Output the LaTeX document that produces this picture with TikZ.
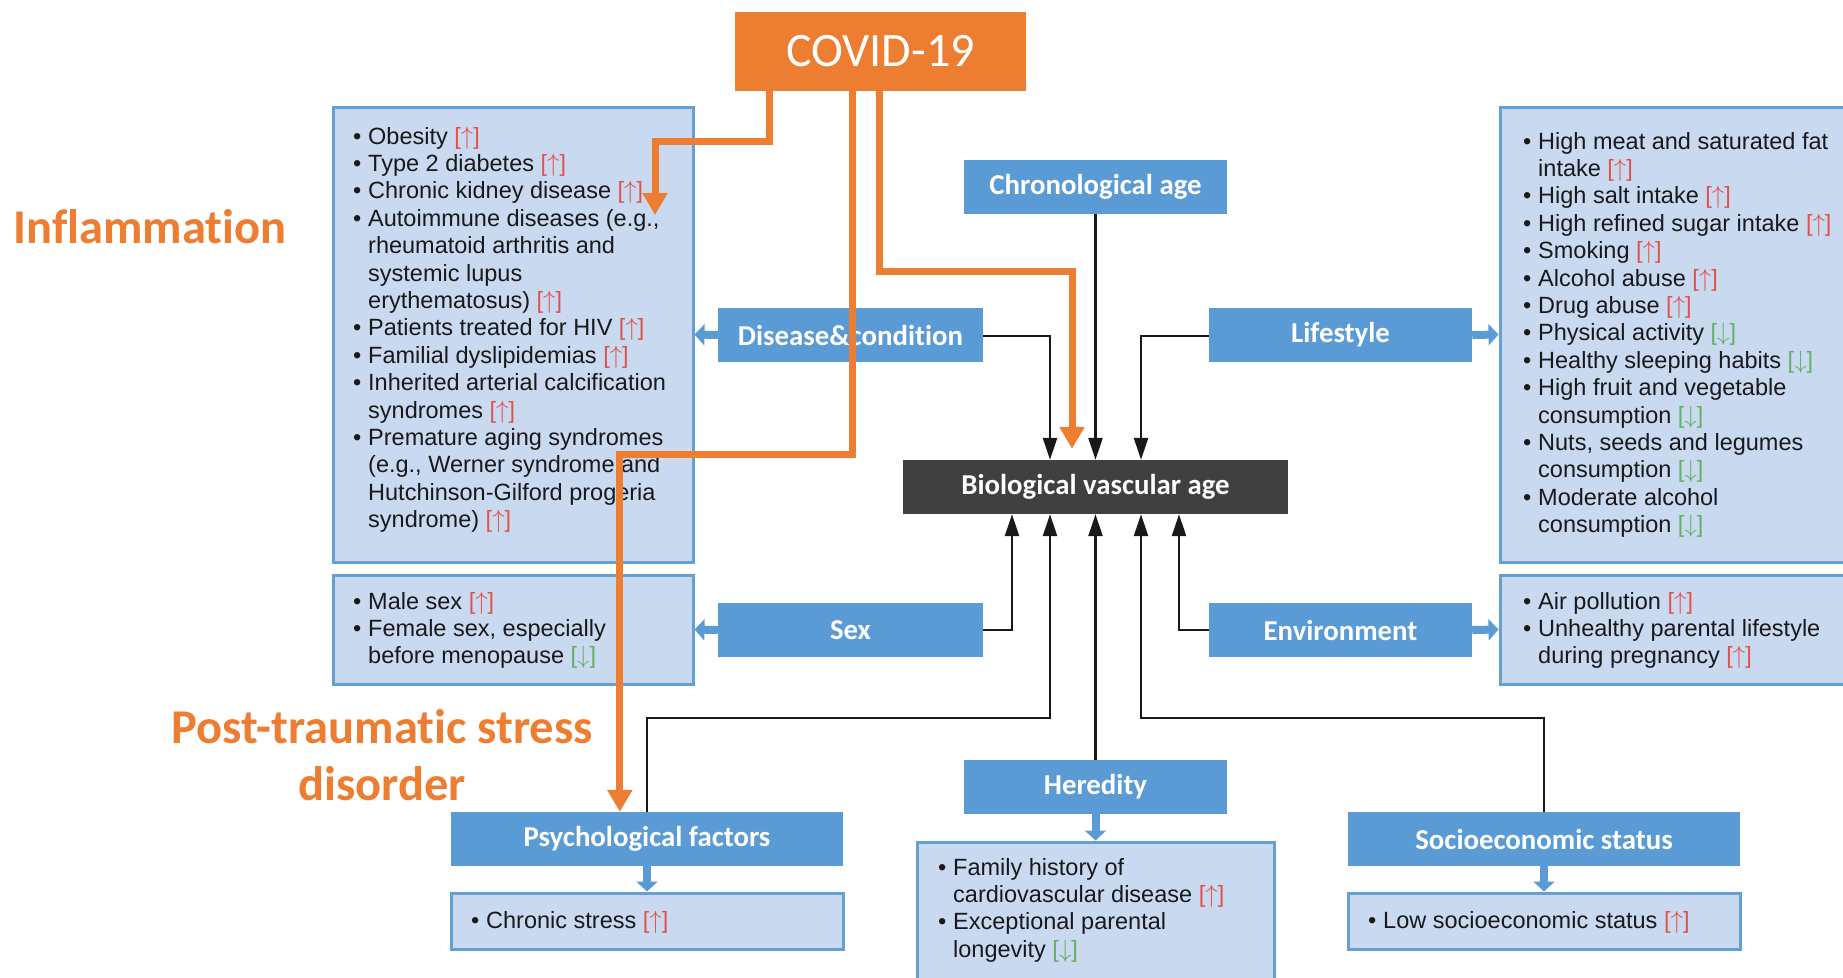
\documentclass[tikz,border=0pt]{standalone}
\usepackage{fontspec}
\setmainfont{Carlito}[Ligatures=NoCommon]
\newfontfamily\lsans{Liberation Sans}
\usetikzlibrary{arrows.meta,calc}
\definecolor{hblue}{RGB}{91,155,213}
\definecolor{lfill}{RGB}{201,217,239}
\definecolor{lborder}{RGB}{98,160,214}
\definecolor{covorange}{RGB}{237,125,49}
\definecolor{darkbox}{RGB}{64,64,64}
\definecolor{upred}{RGB}{226,82,74}
\definecolor{dngreen}{RGB}{98,178,98}
\definecolor{txt}{RGB}{25,25,28}
\newcommand{\up}{\textcolor{upred}{[$\uparrow$]}}
\newcommand{\dn}{\textcolor{dngreen}{[$\downarrow$]}}
\newcommand{\bi}{\par\hangindent=15pt\hangafter=1\noindent\makebox[15pt][l]{\textbullet}}
\newcommand{\lstbox}[2]{\parbox[t]{#1}{\raggedright #2}}
\begin{document}
\begin{tikzpicture}[x=1pt,y=-1pt,
  hdr/.style={fill=hblue, text=white, font=\fontsize{28.8}{32}\selectfont\bfseries, minimum height=54pt, inner sep=0pt},
  lbox/.style={fill=lfill, draw=lborder, line width=3pt, inner sep=0pt},
  ltext/.style={anchor=base west, inner sep=0pt, text=txt, font=\lsans\fontsize{23.5}{27.4}\selectfont},
  conn/.style={draw=black!90, line width=2.5pt, -{Triangle[width=14pt,length=22pt]}},
  oconn/.style={draw=covorange, line width=7pt, -{Triangle[width=24pt,length=22pt]}},
  barrow/.style={draw=hblue, line width=8pt, -{Triangle[width=21pt,length=10pt]}},
  olabel/.style={text=covorange, font=\fontsize{48.5}{57}\selectfont\bfseries, anchor=base, inner sep=0pt}
]
\useasboundingbox (0,0) rectangle (1843,977);
\clip (0,0) rectangle (1843,977);
\fill[white] (0,0) rectangle (1843,977);

% list boxes
\node[lbox, minimum width=360pt, minimum height=455pt] (disList) at (513,334.5) {};
\node[lbox, minimum width=370pt, minimum height=455pt] (lifeList) at (1685,334.5) {};
\node[lbox, minimum width=360pt, minimum height=109pt] (sexList) at (513,629.5) {};
\node[lbox, minimum width=370pt, minimum height=109pt] (envList) at (1685,629.5) {};
\node[lbox, minimum width=392pt, minimum height=56pt] (stressList) at (647,921) {};
\node[lbox, minimum width=357pt, minimum height=150pt] (herList) at (1095.5,917) {};
\node[lbox, minimum width=392pt, minimum height=56pt] (sesList) at (1544,921) {};

% header boxes
\node[hdr, minimum width=263pt] (chrono) at (1095.5,187) {Chronological age};
\node[hdr, minimum width=265pt] (disease) at (850.5,335) {Disease\&condition};
\node[hdr, minimum width=263pt] (life) at (1340.5,335) {Lifestyle};
\node[hdr, minimum width=265pt] (sex) at (850.5,630) {Sex};
\node[hdr, minimum width=263pt] (env) at (1340.5,630) {Environment};
\node[hdr, minimum width=392pt] (psych) at (647,839) {Psychological factors};
\node[hdr, minimum width=263pt] (hered) at (1095.5,787) {Heredity};
\node[hdr, minimum width=392pt] (ses) at (1544,839) {Socioeconomic status};
\node[hdr, fill=darkbox, minimum width=385pt] (bva) at (1095.5,487) {Biological vascular age};

% list texts
\node[ltext] (disText) at (353,144) {\lstbox{345pt}{%
\bi Obesity \up
\bi Type 2 diabetes \up
\bi Chronic kidney disease \up
\bi Autoimmune diseases (e.g.,\newline rheumatoid arthritis and\newline systemic lupus\newline erythematosus) \up
\bi Patients treated for HIV \up
\bi Familial dyslipidemias \up
\bi Inherited arterial calcification\newline syndromes \up
\bi Premature aging syndromes\newline (e.g., Werner syndrome and\newline Hutchinson-Gilford progeria\newline syndrome) \up}};
\node[ltext] (lifeText) at (1523,149) {\lstbox{345pt}{%
\bi High meat and saturated fat\newline intake \up
\bi High salt intake \up
\bi High refined sugar intake \up
\bi Smoking \up
\bi Alcohol abuse \up
\bi Drug abuse \up
\bi Physical activity \dn
\bi Healthy sleeping habits \dn
\bi High fruit and vegetable\newline consumption \dn
\bi Nuts, seeds and legumes\newline consumption \dn
\bi Moderate alcohol\newline consumption \dn}};
\node[ltext] (sexText) at (353,609) {\lstbox{345pt}{%
\bi Male sex \up
\bi Female sex, especially\newline before menopause \dn}};
\node[ltext] (envText) at (1523,609) {\lstbox{345pt}{%
\bi Air pollution \up
\bi Unhealthy parental lifestyle\newline during pregnancy \up}};
\node[ltext] (stressText) at (471,928) {\lstbox{345pt}{\bi Chronic stress \up}};
\node[ltext] (herText) at (938,875) {\lstbox{335pt}{%
\bi Family history of\newline cardiovascular disease \up
\bi Exceptional parental\newline longevity \dn}};
\node[ltext] (sesText) at (1368,928) {\lstbox{365pt}{\bi Low socioeconomic status \up}};

% blue small arrows
\draw[barrow] (disease.west) -- (disList.east);
\draw[barrow] (life.east) -- (lifeList.west);
\draw[barrow] (sex.west) -- (sexList.east);
\draw[barrow] (env.east) -- (envList.west);
\draw[barrow] (psych.south) -- (stressList.north);
\draw[barrow] (hered.south) -- (herList.north);
\draw[barrow] (ses.south) -- (sesList.north);

% black connectors
\draw[conn] (chrono.south) -- (bva.north);
\draw[conn] ($(disease.east)+(0,1)$) -| ($(bva.north)+(-45.5,0)$);
\draw[conn] ($(life.west)+(0,1)$) -| ($(bva.north)+(45.5,0)$);
\draw[conn] (sex.east) -| ($(bva.south)+(-83.5,0)$);
\draw[conn] (env.west) -| ($(bva.south)+(83.5,0)$);
\draw[conn] (hered.north) -- (bva.south);
\draw[conn] (psych.north) -- ++(0,-94) -| ($(bva.south)+(-45.5,0)$);
\draw[conn] (ses.north) -- ++(0,-94) -| ($(bva.south)+(45.5,0)$);

% COVID
\node[fill=covorange, text=white, font=\fontsize{48}{52}\selectfont, minimum width=291pt, minimum height=79pt, inner sep=0pt] (covid) at (880.5,51.5) {COVID-19};

% orange labels
\node[olabel] (infl) at (150,243) {Inflammation};
\node[olabel] (ptsd1) at (382,743) {Post-traumatic stress};
\node[olabel] (ptsd2) at (382,800) {disorder};

% orange connectors
\coordinate (inflTip) at (655,215);
\draw[oconn] ($(covid.south west)+(35,0)$) -- ++(0,50) -| (inflTip);
\draw[oconn] ($(covid.south west)+(118,0)$) -- ++(0,363) -| ($(psych.north west)+(169,0)$);
\draw[oconn] ($(covid.south west)+(145,0)$) -- ++(0,180) -| ($(bva.north)+(-23.5,-11)$);
\end{tikzpicture}
\end{document}
